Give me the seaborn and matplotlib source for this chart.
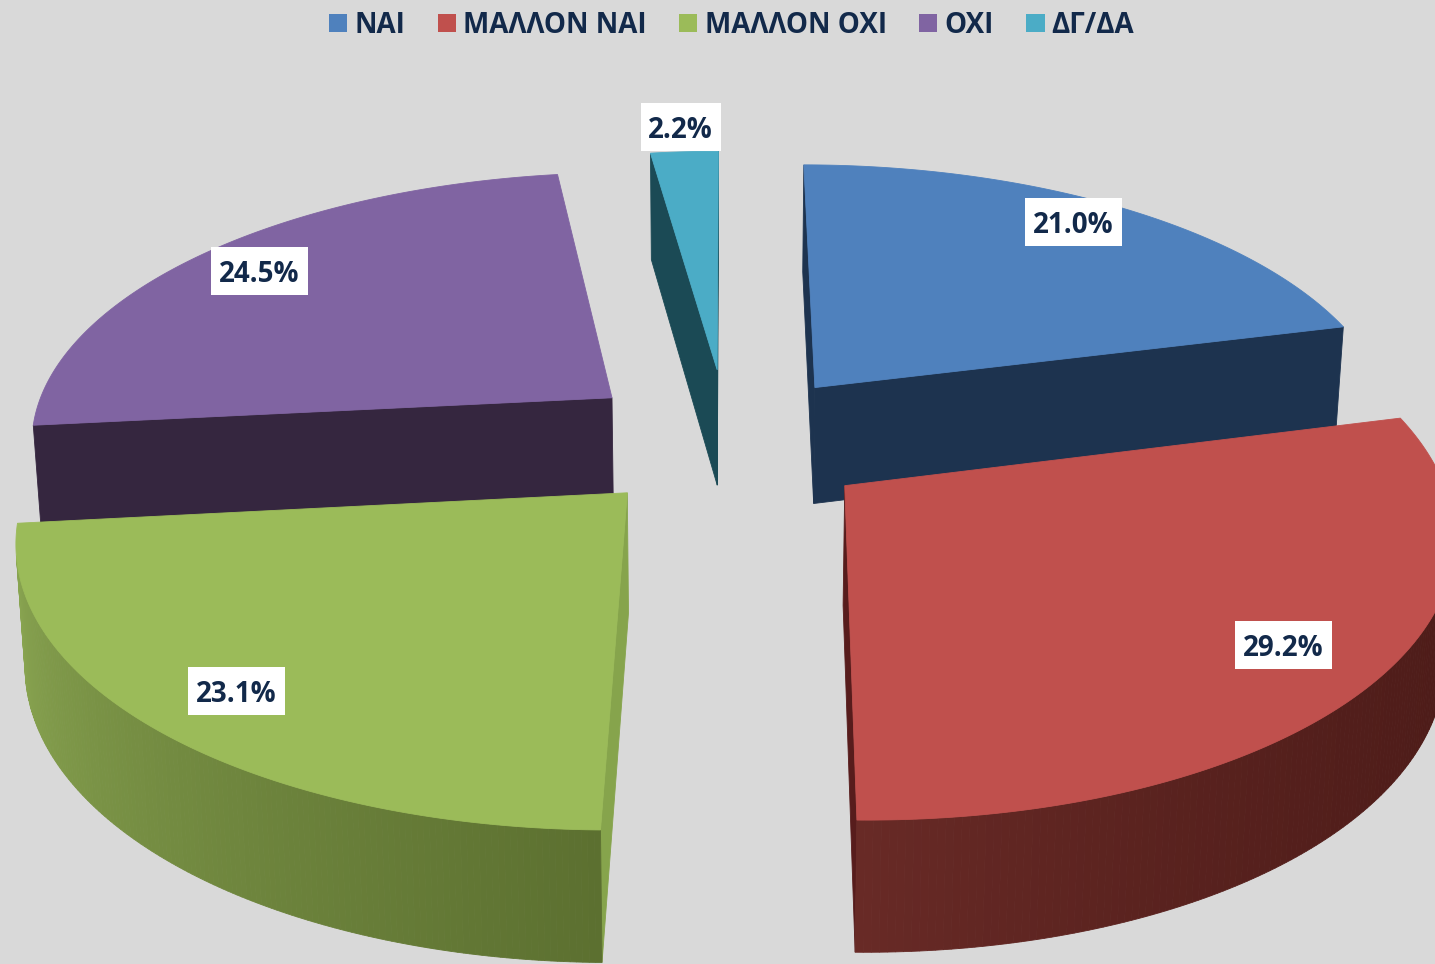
import numpy as np
import matplotlib
matplotlib.use("Agg")
import matplotlib.pyplot as plt
from matplotlib.colors import to_rgb
from matplotlib.patches import Patch, Rectangle
import seaborn as sns

categories = ["ΝΑΙ", "ΜΑΛΛΟΝ ΝΑΙ", "ΜΑΛΛΟΝ ΟΧΙ", "ΟΧΙ", "ΔΓ/ΔΑ"]
values = [21.0, 29.2, 23.1, 24.5, 2.2]
value_labels = ["21.0%", "29.2%", "23.1%", "24.5%", "2.2%"]

top_colors = ["#4F81BD", "#C0504D", "#9BBB59", "#8064A2", "#4BACC6"]
wall_start = ["#1D334F", "#571C1C", "#86A44C", "#35263F", "#1B4A55"]
wall_end = ["#1D334F", "#571C1C", "#86A44C", "#35263F", "#1B4A55"]
rim_a = ["#1D334F", "#4C1B18", "#5C7030", "#35263F", "#1B4A55"]
rim_b = ["#1D334F", "#682A26", "#8CA853", "#35263F", "#1B4A55"]
rim_pow = [1, 2.5, 1, 1, 1]
explode_x = [0.167, 0.208, -0.154, -0.189, -0.005]
explode_y = [0.20, -0.165, -0.19, 0.16, 0.27]
label_r = [0.885, 0.837, 0.85, 0.862, 1.13]
label_turn = [-2.0, 0.0, 0.0, 0.0, 0.0]
label_w = [97, 97, 97, 97, 80]
draw_order = [4, 3, 0, 2, 1]

W, H = 1435, 964
CX, CY, SX, SY, K = 720.0, 440.0, 585.0, 270.0, 0.148
THICK, CONV = 118.0, 0.987
START = 0.1
INK = "#12294A"

sns.set_theme(style="white")
plt.rcParams["font.family"] = ["Open Sans", "DejaVu Sans"]
palette = sns.color_palette(top_colors)

fig = plt.figure(figsize=(W / 100, H / 100), dpi=100, facecolor="#D9D9D9")
ax = fig.add_axes([0, 0, 1, 1])
ax.set_xlim(0, W)
ax.set_ylim(H, 0)
ax.axis("off")


def top_pt(x, y):
    w = 1 + K * y
    return np.column_stack([CX + SX * x / w, CY - SY * y / w])


def bot_pt(x, y):
    w = 1 + K * y
    p = top_pt(x, y)
    p[:, 0] = CX + (p[:, 0] - CX) * CONV
    p[:, 1] = p[:, 1] + THICK / w ** 0.6
    return p


def area(p):
    x, y = p[:, 0], p[:, 1]
    return 0.5 * np.sum(x * np.roll(y, -1) - np.roll(x, -1) * y)


def quad(x0, y0, x1, y1, color):
    a = np.array([x0, x1])
    b = np.array([y0, y1])
    t, u = top_pt(a, b), bot_pt(a[::-1], b[::-1])
    poly = np.vstack([t, u])
    if area(poly) > 0:  # only faces turned to the viewer
        ax.fill(poly[:, 0], poly[:, 1], color=color, lw=0.6, zorder=z[0])
        z[0] += 0.001


edges = START + 360 * np.cumsum([0] + values) / sum(values)
z = [2.0]
for i in draw_order:
    th = np.radians(np.linspace(edges[i], edges[i + 1], 160))
    ex, ey = explode_x[i], explode_y[i]
    xs, ys = ex + np.sin(th), ey + np.cos(th)
    quad(xs[0], ys[0], ex, ey, wall_start[i])
    quad(ex, ey, xs[-1], ys[-1], wall_end[i])
    ca, cb = np.array(to_rgb(rim_a[i])), np.array(to_rgb(rim_b[i]))
    for j in range(len(th) - 1):
        f = (j / (len(th) - 2)) ** rim_pow[i]
        quad(xs[j + 1], ys[j + 1], xs[j], ys[j], tuple(ca + (cb - ca) * f))
    pts = top_pt(np.r_[ex, xs], np.r_[ey, ys])
    ax.fill(pts[:, 0], pts[:, 1], color=palette[i], lw=0.6, zorder=z[0])
    z[0] += 0.01

mids = (edges[:-1] + edges[1:]) / 2
for i, txt in enumerate(value_labels):
    ang = np.radians(mids[i] + label_turn[i])
    x = explode_x[i] + label_r[i] * np.sin(ang)
    y = explode_y[i] + label_r[i] * np.cos(ang)
    p = top_pt(np.array([x]), np.array([y]))[0]
    ax.add_patch(Rectangle((p[0] - label_w[i] / 2, p[1] - 24), label_w[i], 48,
                           fc="white", ec="none", zorder=5))
    ax.text(p[0], p[1], txt, ha="center", va="center_baseline", fontsize=20,
            fontweight="bold", color=INK, zorder=6)

handles = [Patch(facecolor=c, edgecolor="none", label=n) for c, n in zip(palette, categories)]
ax.legend(handles=handles, ncols=5, loc="upper center", bbox_to_anchor=(0.51, 1.015),
          frameon=False, handlelength=0.65, handleheight=0.65,
          handletextpad=0.26, columnspacing=1.17, labelcolor=INK,
          prop={"size": 20, "weight": "bold", "family": ["Open Sans", "DejaVu Sans"]})

fig.savefig("out.png", dpi=100, facecolor=fig.get_facecolor())
